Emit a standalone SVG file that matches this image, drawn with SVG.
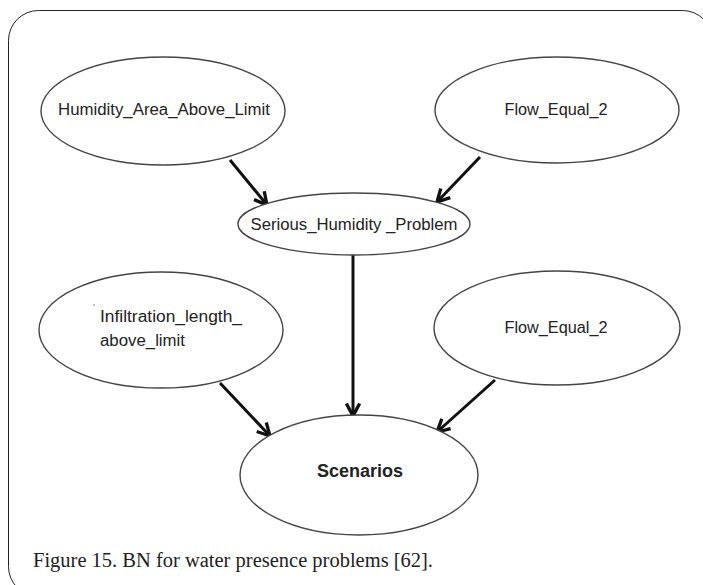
<svg xmlns="http://www.w3.org/2000/svg" width="703" height="585" viewBox="0 0 703 585">
  <defs>
    <marker id="arrow" viewBox="0 0 10 10" refX="8.5" refY="5" markerWidth="5.5" markerHeight="5.5" orient="auto" markerUnits="strokeWidth">
      <path d="M1,1 L8.5,5 L1,9" fill="none" stroke="#111" stroke-width="2"/>
    </marker>
    <style>
      .node { fill: #fff; stroke: #444; stroke-width: 1.4; }
      .lbl { font-family: "Liberation Sans", Arial, sans-serif; font-size: 16px; fill: #222; text-anchor: middle; }
      .lft { text-anchor: start; }
      .edge { stroke: #111; stroke-width: 3; fill: none; marker-end: url(#arrow); }
    </style>
  </defs>
  <rect x="0" y="0" width="703" height="585" fill="#fff"/>
  <!-- outer frame -->
  <rect x="8.5" y="10.5" width="704" height="586" rx="30" ry="30" fill="none" stroke="#222" stroke-width="1"/>

  <g id="connectors">
    <line class="edge" x1="230" y1="160" x2="267" y2="205"/>
    <line class="edge" x1="480" y1="157" x2="437" y2="202"/>
    <line class="edge" x1="353" y1="254" x2="353" y2="416"/>
    <line class="edge" x1="220" y1="383" x2="270" y2="436"/>
    <line class="edge" x1="495" y1="380" x2="437" y2="432"/>
  </g>

  <g id="humidity_area">
    <ellipse class="node" cx="163" cy="111" rx="122" ry="54"/>
    <text class="lbl" x="164" y="115" textLength="212" lengthAdjust="spacingAndGlyphs">Humidity_Area_Above_Limit</text>
  </g>
  <g id="flow_top">
    <ellipse class="node" cx="557" cy="110" rx="122" ry="53"/>
    <text class="lbl" x="556" y="115" textLength="103" lengthAdjust="spacingAndGlyphs">Flow_Equal_2</text>
  </g>
  <g id="serious_humidity">
    <ellipse class="node" cx="354" cy="224" rx="116" ry="31"/>
    <text class="lbl" x="354" y="230" textLength="207" lengthAdjust="spacingAndGlyphs">Serious_Humidity _Problem</text>
  </g>
  <g id="infiltration">
    <ellipse class="node" cx="161" cy="330" rx="122" ry="58"/>
    <text class="lbl lft" x="100" y="322" textLength="142" lengthAdjust="spacingAndGlyphs">Infiltration_length_</text>
    <text class="lbl lft" x="100" y="346" textLength="85" lengthAdjust="spacingAndGlyphs">above_limit</text>
    <circle cx="94" cy="305" r="0.8" fill="#777"/>
  </g>
  <g id="flow_bottom">
    <ellipse class="node" cx="557" cy="328" rx="123" ry="57"/>
    <text class="lbl" x="556" y="333" textLength="103" lengthAdjust="spacingAndGlyphs">Flow_Equal_2</text>
  </g>
  <g id="scenarios">
    <ellipse class="node" cx="359" cy="475" rx="119" ry="60"/>
    <text class="lbl" x="360" y="477" style="font-weight:bold;font-size:18px" textLength="86" lengthAdjust="spacingAndGlyphs">Scenarios</text>
  </g>

  <text x="33" y="567" font-family="'Liberation Serif', 'Times New Roman', serif" font-size="20" fill="#222" textLength="400" lengthAdjust="spacingAndGlyphs">Figure 15. BN for water presence problems [62].</text>
</svg>
